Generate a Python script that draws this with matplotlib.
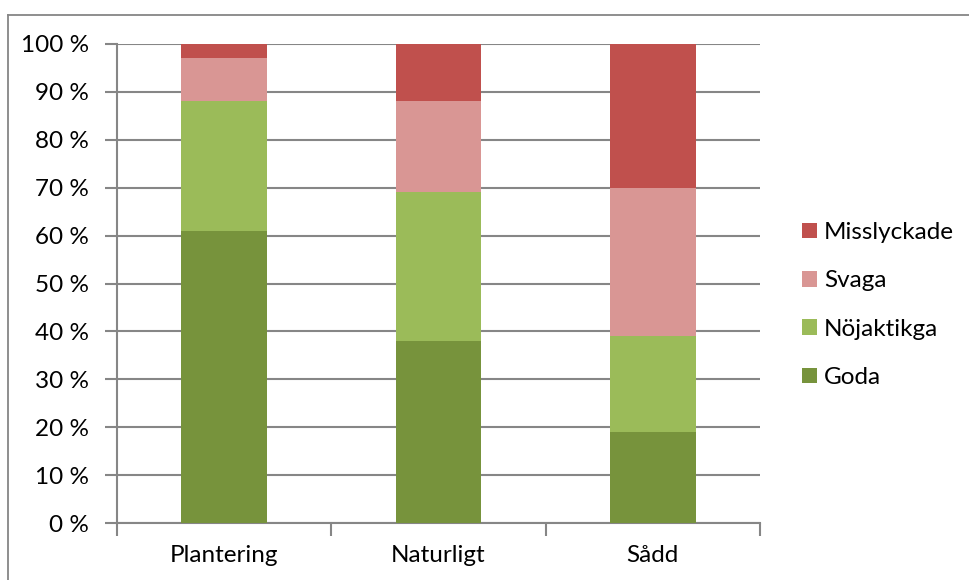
import matplotlib
matplotlib.use("Agg")
import matplotlib.pyplot as plt
from matplotlib.lines import Line2D
import numpy as np

plt.rcParams['font.family'] = ['Lato', 'DejaVu Sans']

categories = ["Plantering", "Naturligt", "Sådd"]
series_names = ["Goda", "Nöjaktikga", "Svaga", "Misslyckade"]
goda = [61, 38, 19]
nojaktikga = [27, 31, 20]
svaga = [9, 19, 31]
misslyckade = [3, 12, 30]
colors = ["#77933C", "#9BBB59", "#D99694", "#C0504D"]
ytick_labels = [f"{v} %" for v in range(0, 101, 10)]

W, H = 969, 580
fig = plt.figure(figsize=(W / 100, H / 100), dpi=100)
ax = fig.add_axes([117 / W, 1 - 523 / H, (760 - 117) / W, (523 - 44) / H])

grid_c = "#868686"
fs = 17.5
x = np.arange(len(categories))
bottom = np.zeros(len(categories))
handles = []
for name, vals, c in zip(series_names, [goda, nojaktikga, svaga, misslyckade], colors):
    b = ax.bar(x, vals, width=0.4, bottom=bottom, color=c, label=name, zorder=3)
    handles.append(b)
    bottom += np.array(vals)

ax.set_xlim(-0.5, 2.5)
ax.set_ylim(0, 100)
ax.set_yticks(range(0, 101, 10))
ax.set_yticklabels(ytick_labels)
ax.yaxis.grid(True, color=grid_c, linewidth=1.5, zorder=0)
ax.set_xticks(x)
ax.set_xticklabels(categories)
ax.set_xticks([-0.5, 0.5, 1.5, 2.5], minor=True)
ax.tick_params(axis="x", which="major", length=0, pad=16, labelsize=fs)
ax.tick_params(axis="x", which="minor", length=9, width=1.5, color=grid_c)
ax.tick_params(axis="y", length=9, width=1.5, color=grid_c, labelsize=fs, pad=11)
for s in ["top", "right"]:
    ax.spines[s].set_visible(False)
for s in ["left", "bottom"]:
    ax.spines[s].set_color(grid_c)
    ax.spines[s].set_linewidth(1.5)

# outer chart frame
fig.add_artist(Line2D([8 / W, 8 / W], [0, 1 - 15 / H], transform=fig.transFigure,
                      color=grid_c, linewidth=1.3))
fig.add_artist(Line2D([8 / W, 1], [1 - 15 / H, 1 - 15 / H], transform=fig.transFigure,
                      color=grid_c, linewidth=1.3))

leg = fig.legend(handles[::-1], series_names[::-1], loc="upper left",
                 bbox_to_anchor=(790 / W, 1 - 210 / H), frameon=False,
                 fontsize=fs, handlelength=0.6, handleheight=0.6,
                 handletextpad=0.3, labelspacing=1.12, borderpad=0)

fig.savefig("out.png", dpi=100)
